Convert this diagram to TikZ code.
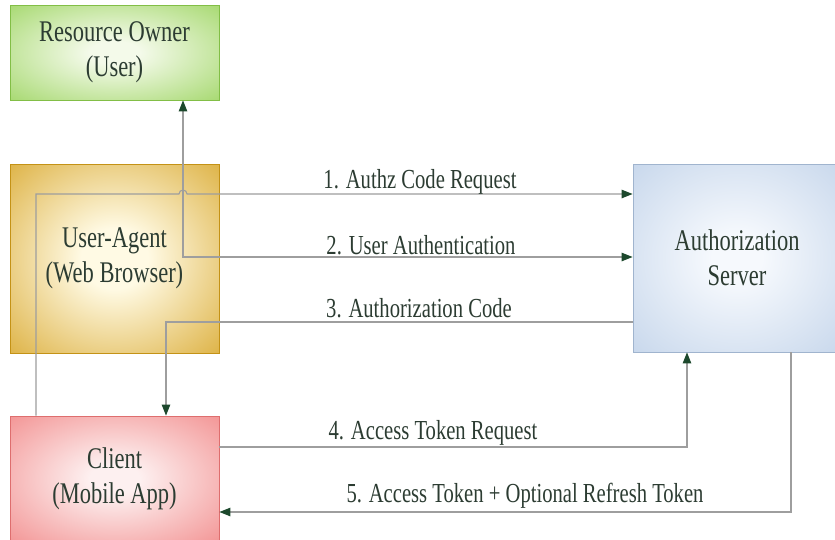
\documentclass[tikz,border=0pt]{standalone}
\usepackage{fontspec}
\setmainfont{Liberation Serif}[FakeStretch=0.75]
\usetikzlibrary{arrows.meta,calc}

% palette
\definecolor{ink}{RGB}{44,60,50}
\definecolor{linegray}{RGB}{158,158,158}
\definecolor{tipgreen}{RGB}{28,72,44}
\definecolor{ownerIn}{RGB}{244,250,234}
\definecolor{ownerOut}{RGB}{146,208,80}
\definecolor{ownerRim}{RGB}{130,190,70}
\definecolor{agentIn}{RGB}{255,250,228}
\definecolor{agentOut}{RGB}{212,158,24}
\definecolor{agentRim}{RGB}{196,146,22}
\definecolor{clientIn}{RGB}{253,240,240}
\definecolor{clientOut}{RGB}{240,124,124}
\definecolor{clientRim}{RGB}{222,110,110}
\definecolor{serverIn}{RGB}{246,249,253}
\definecolor{serverOut}{RGB}{184,204,230}
\definecolor{serverRim}{RGB}{160,180,206}

% soft glow from a pale centre to the box colour
\pgfdeclareradialshading{ownerglow}{\pgfpointorigin}{color(0bp)=(ownerIn); color(6bp)=(ownerIn); color(44bp)=(ownerOut); color(75bp)=(ownerOut)}
\pgfdeclareradialshading{agentglow}{\pgfpointorigin}{color(0bp)=(agentIn); color(8bp)=(agentIn); color(44bp)=(agentOut); color(75bp)=(agentOut)}
\pgfdeclareradialshading{clientglow}{\pgfpointorigin}{color(0bp)=(clientIn); color(6bp)=(clientIn); color(44bp)=(clientOut); color(75bp)=(clientOut)}
\pgfdeclareradialshading{serverglow}{\pgfpointorigin}{color(0bp)=(serverIn); color(6bp)=(serverIn); color(46bp)=(serverOut); color(75bp)=(serverOut)}

\tikzset{
  party/.style={shade, draw, line width=0.8pt, align=center, text=ink,
    font=\fontsize{30}{35}\selectfont, inner sep=0pt},
  flowtip/.tip={Triangle[length=11pt,width=8.5pt,color=tipgreen]},
  link/.style={draw=linegray, line width=1.1pt},
  msg/.style={text=ink, font=\fontsize{27.5}{32}\selectfont, inner sep=0pt}
}

\begin{document}
\begin{tikzpicture}[x=1pt,y=-1pt]
\useasboundingbox (0,0) rectangle (835,539);
\fill[white] (0,0) rectangle (835,539);

% parties
\node[party, shading=ownerglow, draw=ownerRim, minimum width=209pt, minimum height=95pt]
  (owner) at (114.5,52.5) {Resource Owner\\(User)};
\node[party, shading=agentglow, draw=agentRim, minimum width=209pt, minimum height=189pt]
  (agent) at (114.5,258.5) {User-Agent\\(Web Browser)};
\node[party, shading=clientglow, draw=clientRim, minimum width=209pt, minimum height=126pt]
  (client) at (114.5,479) {Client\\(Mobile App)};
\node[party, shading=serverglow, draw=serverRim, minimum width=208pt, minimum height=188pt]
  (server) at (737,258) {Authorization\\Server};

% bends of the message lines
\coordinate (t1) at (36,194);
\coordinate (t2) at (183,257);
\coordinate (t3) at (166,322);
\coordinate (t4) at (687,447);
\coordinate (t5) at (791,512);

% 1. request, hopping over the authentication line
\draw[link,-flowtip] (client.north -| t1) -- (t1)
  -- ($(t1 -| t2)+(-4,0)$) arc[start angle=180,end angle=0,radius=4pt]
  -- (server.west |- t1);
% 2. authentication between owner and server
\draw[link,flowtip-flowtip] (owner.south -| t2) |- (server.west |- t2);
% 3. code back to the client
\draw[link,-flowtip] (server.west |- t3) -| (client.north -| t3);
% 4. token request
\draw[link,-flowtip] (client.east |- t4) -| (server.south -| t4);
% 5. tokens returned
\draw[link,-flowtip] (server.south -| t5) |- (client.east |- t5);

% message labels
\node[msg] (m1) at (420,182) {1. Authz Code Request};
\node[msg] (m2) at (421,245) {2. User Authentication};
\node[msg] (m3) at (419,308) {3. Authorization Code};
\node[msg] (m4) at (433,433) {4. Access Token Request};
\node[msg] (m5) at (525,496) {5. Access Token + Optional Refresh Token};
\end{tikzpicture}
\end{document}
